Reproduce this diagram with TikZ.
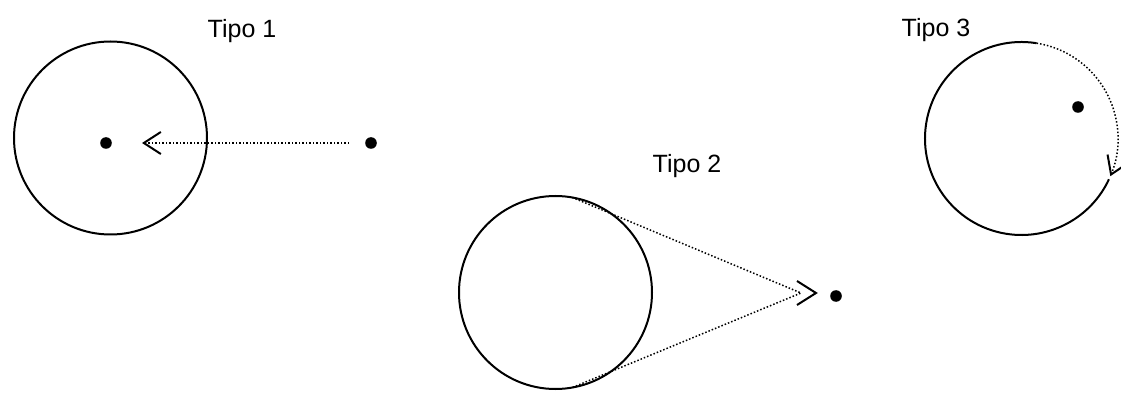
\documentclass[tikz,border=0pt]{standalone}
\usepackage{fontspec}
\setmainfont{Liberation Sans}
\usepackage{tikz}
\usetikzlibrary{positioning,arrows.meta}
\definecolor{InkBlack}{HTML}{000000}

\begin{document}
\begin{tikzpicture}[x=0.5pt,y=0.5pt,
    every node/.style={font=\fontsize{12.5}{15}\selectfont, text=InkBlack},
    ring/.style={circle, draw=InkBlack, line width=1pt, minimum size=96.5pt, inner sep=0pt, outer sep=0pt},
    blob/.style={circle, fill=InkBlack, minimum size=5.8pt, inner sep=0pt, outer sep=0pt},
    trail/.style={draw=InkBlack, line width=0.75pt, dash pattern=on 0.75pt off 1pt},
    flow/.style={trail, -{Straight Barb[length=8.5pt, width=11pt, line width=1pt]}},
    barb/.style={draw=InkBlack, line width=1pt}]
  \useasboundingbox (0,0) rectangle (1121,-401);
  % Tipo 1
  \node[ring] (c1) at (110.5,-138) {};
  \node[blob] (d1) at (106,-143) {};
  \node[blob] (p1) at (371,-143) {};
  \node at (242,-31) {Tipo 1};
  \draw[flow, shorten <=8.1pt, shorten >=15.1pt] (p1) -- (d1);
  % Tipo 2
  \node[ring] (c2) at (555.5,-292.5) {};
  \node[blob] (p2) at (836,-296) {};
  \coordinate (m2) at (801,-293);
  \coordinate (t2) at (816,-293);
  \node at (687,-166) {Tipo 2};
  \draw[trail] (c2.80) -- (m2) -- (c2.-80);
  \draw[barb] (t2) ++(-19,12) -- (t2) -- ++(-19,-12);
  % Tipo 3
  \coordinate (o3) at (1021.5,-138.5);
  \node[blob] (p3) at (1078,-107) {};
  \node at (936,-30) {Tipo 3};
  \draw[barb] (o3) ++(81:48.25pt) arc[start angle=81, end angle=335, radius=48.25pt];
  \draw[flow] (o3) ++(81:48.25pt) arc[start angle=81, end angle=-23, radius=48.25pt];
\end{tikzpicture}
\end{document}
